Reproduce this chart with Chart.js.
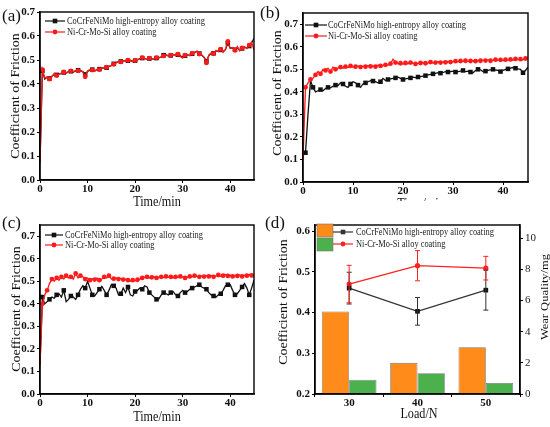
<!DOCTYPE html>
<html>
<head>
<meta charset="utf-8">
<script src="https://cdn.jsdelivr.net/npm/chart.js@4.4.0/dist/chart.umd.min.js"></script>
<style>
  body { margin: 0; background: #fff; }
  #wrap { position: relative; width: 550px; height: 427px; overflow: hidden; background: #fff; }
  canvas { position: absolute; }
  .tag { position: absolute; font-family: 'Liberation Serif', 'Times New Roman', serif; font-size: 17px; line-height: 17px; color: #111; z-index: 5; }
</style>
</head>
<body>
<div id="wrap">
  <canvas id="ca" width="275" height="212" style="left:0px;top:0px"></canvas>
  <canvas id="cb" width="288" height="201" style="left:262px;top:0px"></canvas>
  <canvas id="cc" width="275" height="215" style="left:0px;top:212px"></canvas>
  <canvas id="cd" width="288" height="215" style="left:262px;top:212px"></canvas>
  <div class="tag" style="left:2px;top:7px">(a)</div>
  <div class="tag" style="left:260px;top:4px">(b)</div>
  <div class="tag" style="left:2px;top:214px">(c)</div>
  <div class="tag" style="left:265px;top:214px">(d)</div>
</div>
<script>
// sampling times (min)
const minutes = [
  0,0.5,1,1.5,2,2.5,3,3.5,4,4.5,
  5,5.5,6,6.5,7,7.5,8,8.5,9,9.5,
  10,10.5,11,11.5,12,12.5,13,13.5,14,14.5,
  15,15.5,16,16.5,17,17.5,18,18.5,19,19.5,
  20,20.5,21,21.5,22,22.5,23,23.5,24,24.5,
  25,25.5,26,26.5,27,27.5,28,28.5,29,29.5,
  30,30.5,31,31.5,32,32.5,33,33.5,34,34.5,
  35,35.5,36,36.5,37,37.5,38,38.5,39,39.5,
  40,40.5,41,41.5,42,42.5,43,43.5,44,44.5,
  45];

// (a)
const cofA_HEA = [
  0.07,0.455,0.42,0.428,0.423,0.432,0.44,0.438,0.442,0.443,
  0.448,0.447,0.452,0.453,0.45,0.455,0.457,0.455,0.452,0.44,
  0.452,0.458,0.46,0.455,0.46,0.462,0.466,0.467,0.468,0.474,
  0.476,0.484,0.49,0.493,0.494,0.495,0.497,0.497,0.498,0.495,
  0.497,0.5,0.506,0.508,0.506,0.504,0.506,0.505,0.504,0.508,
  0.51,0.512,0.52,0.52,0.518,0.519,0.522,0.52,0.522,0.517,
  0.512,0.518,0.52,0.52,0.526,0.532,0.535,0.527,0.52,0.512,
  0.495,0.518,0.528,0.528,0.538,0.537,0.542,0.535,0.543,0.57,
  0.55,0.55,0.543,0.552,0.54,0.548,0.553,0.55,0.558,0.57,
  0.59];
const cofA_NiCr = [
  0.07,0.46,0.425,0.43,0.42,0.43,0.445,0.435,0.44,0.445,
  0.45,0.445,0.45,0.455,0.452,0.456,0.455,0.458,0.45,0.43,
  0.455,0.46,0.458,0.452,0.462,0.46,0.468,0.465,0.47,0.472,
  0.478,0.482,0.487,0.495,0.492,0.497,0.495,0.499,0.496,0.493,
  0.498,0.503,0.505,0.51,0.507,0.502,0.508,0.503,0.506,0.51,
  0.508,0.514,0.517,0.522,0.516,0.52,0.523,0.518,0.524,0.515,
  0.508,0.52,0.522,0.518,0.528,0.53,0.538,0.525,0.522,0.51,
  0.488,0.52,0.53,0.526,0.54,0.535,0.545,0.532,0.545,0.578,
  0.548,0.552,0.54,0.556,0.538,0.55,0.555,0.548,0.562,0.575,
  0.54];

// (b)
const cofB_HEA = [
  0.12,0.13,0.30,0.45,0.42,0.40,0.405,0.41,0.405,0.415,
  0.42,0.418,0.425,0.43,0.428,0.44,0.435,0.425,0.42,0.435,
  0.445,0.44,0.43,0.42,0.435,0.44,0.445,0.45,0.448,0.445,
  0.44,0.445,0.46,0.45,0.455,0.458,0.46,0.462,0.465,0.46,
  0.455,0.458,0.46,0.462,0.465,0.463,0.466,0.468,0.47,0.472,
  0.475,0.478,0.48,0.482,0.485,0.483,0.486,0.49,0.488,0.49,
  0.492,0.488,0.49,0.492,0.495,0.49,0.492,0.488,0.485,0.495,
  0.50,0.498,0.49,0.492,0.495,0.498,0.50,0.497,0.495,0.49,
  0.495,0.50,0.502,0.505,0.508,0.505,0.502,0.50,0.485,0.495,
  0.51];
const cofB_NiCr = [
  0.10,0.42,0.44,0.455,0.46,0.475,0.49,0.48,0.50,0.495,
  0.505,0.49,0.51,0.50,0.505,0.51,0.505,0.512,0.508,0.515,
  0.51,0.512,0.515,0.51,0.514,0.512,0.516,0.513,0.515,0.512,
  0.518,0.515,0.517,0.52,0.518,0.525,0.545,0.53,0.525,0.527,
  0.523,0.528,0.525,0.53,0.527,0.524,0.526,0.528,0.53,0.527,
  0.529,0.532,0.528,0.53,0.534,0.53,0.533,0.531,0.535,0.532,
  0.534,0.536,0.533,0.537,0.535,0.538,0.535,0.537,0.539,0.536,
  0.54,0.538,0.541,0.539,0.542,0.538,0.541,0.543,0.54,0.542,
  0.539,0.543,0.541,0.544,0.54,0.546,0.543,0.545,0.542,0.548,
  0.55];

// (c)
const cofC_HEA = [
  0.13,0.43,0.40,0.41,0.42,0.43,0.425,0.44,0.445,0.43,
  0.46,0.41,0.42,0.435,0.43,0.42,0.44,0.465,0.48,0.47,
  0.50,0.47,0.44,0.435,0.45,0.465,0.478,0.46,0.44,0.46,
  0.485,0.48,0.47,0.44,0.445,0.47,0.45,0.475,0.44,0.435,
  0.455,0.46,0.47,0.465,0.48,0.475,0.45,0.44,0.43,0.42,
  0.422,0.44,0.45,0.445,0.44,0.45,0.455,0.44,0.435,0.45,
  0.46,0.45,0.455,0.465,0.47,0.475,0.48,0.485,0.475,0.47,
  0.465,0.45,0.44,0.435,0.43,0.44,0.445,0.46,0.48,0.485,
  0.485,0.46,0.44,0.445,0.46,0.475,0.49,0.47,0.44,0.47,
  0.505];
const cofC_NiCr = [
  0.13,0.40,0.44,0.46,0.49,0.51,0.50,0.515,0.505,0.52,
  0.51,0.525,0.515,0.52,0.51,0.535,0.515,0.525,0.52,0.51,
  0.515,0.505,0.512,0.508,0.515,0.505,0.51,0.52,0.515,0.525,
  0.51,0.512,0.515,0.51,0.513,0.508,0.51,0.505,0.50,0.505,
  0.502,0.507,0.51,0.515,0.518,0.52,0.515,0.518,0.52,0.515,
  0.518,0.52,0.517,0.522,0.518,0.52,0.515,0.52,0.518,0.522,
  0.52,0.515,0.518,0.522,0.52,0.525,0.522,0.52,0.524,0.521,
  0.525,0.522,0.526,0.52,0.524,0.528,0.522,0.525,0.53,0.524,
  0.527,0.522,0.526,0.524,0.528,0.522,0.527,0.525,0.53,0.526,
  0.528];

// (d)
const loads = ['30', '40', '50'];
const loadCofHEA = [0.46, 0.403, 0.455];
const loadCofHEAErr = [0.039, 0.034, 0.049];
const loadCofNiCr = [0.47, 0.515, 0.509];
const loadCofNiCrErr = [0.046, 0.037, 0.029];
const wearHEA = [5.3, 2.0, 3.0];
const wearNiCr = [0.92, 1.33, 0.71];

const timeTicks = [0, 10, 20, 30, 40];
const cofTicks = [0, 0.1, 0.2, 0.3, 0.4, 0.5, 0.6, 0.7];
const loadCofTicks = [0.2, 0.3, 0.4, 0.5, 0.6];
const wearTicks = [0, 2, 4, 6, 8, 10];

const nameHEA = 'CoCrFeNiMo high-entropy alloy coating';
const nameNiCr = 'Ni-Cr-Mo-Si alloy coating';

const SERIF = "'Liberation Serif', 'Times New Roman', serif";
Chart.defaults.font.family = SERIF;
Chart.defaults.color = '#111';

const RED = '#ff1a1a';
const BLACK = '#111';
const tickFont = { family: SERIF, size: 11, weight: 'bold' };
const axisGrid = { drawOnChartArea: false, drawTicks: true, tickLength: 3, color: '#000', lineWidth: 1 };
const axisBorder = { color: '#000', width: 1.4 };

function series(vals, name, color, style, every, order) {
  return {
    label: name,
    data: minutes.map((t, i) => ({ x: t, y: vals[i] })),
    borderColor: color,
    backgroundColor: color,
    borderWidth: 1.3,
    pointStyle: style,
    pointRadius: c => (c.dataIndex % every === 1 ? (style === 'rect' ? 3.2 : 2.4) : 0),
    pointBorderWidth: 0,
    tension: 0,
    order
  };
}

// frame, axis titles and in-plot legend
function decor(cfg) {
  return {
    id: 'decor',
    afterDraw(chart) {
      const { ctx, chartArea: a } = chart;
      const ds = chart.data.datasets;
      ctx.save();
      ctx.strokeStyle = '#000';
      ctx.lineWidth = 1.4;
      ctx.strokeRect(a.left, a.top, a.right - a.left, a.bottom - a.top);

      cfg.titles.forEach(t => {
        ctx.save();
        ctx.translate(t.x, t.y);
        if (t.rot) {
          ctx.rotate(-Math.PI / 2);
          ctx.scale(1, 0.85);
        } else {
          ctx.scale(0.87, 1);
        }
        ctx.font = t.size + 'px ' + SERIF;
        ctx.fillStyle = '#111';
        ctx.textAlign = 'center';
        ctx.textBaseline = 'middle';
        ctx.fillText(t.text, 0, 0);
        ctx.restore();
      });

      const L = cfg.legend;
      (L.boxes || []).forEach(b => {
        ctx.fillStyle = ds[b.ds].backgroundColor;
        ctx.fillRect(b.x, b.y, b.w, b.h);
        ctx.strokeStyle = '#777';
        ctx.lineWidth = 0.6;
        ctx.strokeRect(b.x, b.y, b.w, b.h);
      });
      L.rows.forEach(r => {
        const d = ds[r.ds];
        ctx.strokeStyle = d.borderColor;
        ctx.fillStyle = d.borderColor;
        ctx.lineWidth = 1.2;
        ctx.beginPath();
        ctx.moveTo(L.x0, r.y);
        ctx.lineTo(L.x1, r.y);
        ctx.stroke();
        const mx = (L.x0 + L.x1) / 2;
        if (d.pointStyle === 'rect') {
          ctx.fillRect(mx - 2.3, r.y - 2.3, 4.6, 4.6);
        } else {
          ctx.beginPath();
          ctx.arc(mx, r.y, 2.4, 0, Math.PI * 2);
          ctx.fill();
        }
        ctx.save();
        ctx.translate(L.tx, r.y);
        ctx.scale(0.8, 1);
        ctx.font = '10.5px ' + SERIF;
        ctx.fillStyle = '#222';
        ctx.textAlign = 'left';
        ctx.textBaseline = 'middle';
        ctx.fillText(d.label, 0, 0);
        ctx.restore();
      });
      ctx.restore();
    }
  };
}

function errorBars(list) {
  return {
    id: 'errorBars',
    afterDatasetsDraw(chart) {
      const ctx = chart.ctx;
      list.forEach(({ ds, err }) => {
        const d = chart.data.datasets[ds];
        const meta = chart.getDatasetMeta(ds);
        const ys = chart.scales[d.yAxisID];
        ctx.save();
        ctx.strokeStyle = d.borderColor;
        ctx.lineWidth = 1;
        meta.data.forEach((pt, i) => {
          const top = ys.getPixelForValue(d.data[i] + err[i]);
          const bot = ys.getPixelForValue(d.data[i] - err[i]);
          ctx.beginPath();
          ctx.moveTo(pt.x, top); ctx.lineTo(pt.x, bot);
          ctx.moveTo(pt.x - 2.5, top); ctx.lineTo(pt.x + 2.5, top);
          ctx.moveTo(pt.x - 2.5, bot); ctx.lineTo(pt.x + 2.5, bot);
          ctx.stroke();
        });
        ctx.restore();
      });
    }
  };
}

function timeChart(id, hea, nicr, yMax, yWidth, xHeight, pad, redEvery, deco) {
  new Chart(document.getElementById(id), {
    type: 'line',
    data: {
      datasets: [
        series(hea, nameHEA, BLACK, 'rect', 3, 1),
        series(nicr, nameNiCr, RED, 'circle', redEvery, 0)
      ]
    },
    options: {
      responsive: false,
      animation: false,
      events: [],
      layout: { padding: pad },
      plugins: { legend: { display: false }, tooltip: { enabled: false } },
      scales: {
        x: {
          type: 'linear', min: 0, max: 45,
          afterBuildTicks: s => { s.ticks = timeTicks.map(v => ({ value: v })); },
          afterFit: s => { s.height = xHeight; },
          grid: axisGrid, border: axisBorder,
          ticks: { font: tickFont, color: '#111', padding: 0, maxRotation: 0 }
        },
        y: {
          min: 0, max: yMax,
          afterBuildTicks: s => { s.ticks = cofTicks.map(v => ({ value: v })); },
          afterFit: s => { s.width = yWidth; },
          grid: axisGrid, border: axisBorder,
          ticks: { font: tickFont, color: '#111', padding: 2, callback: v => v.toFixed(1) }
        }
      }
    },
    plugins: [decor(deco)]
  });
}

timeChart('ca', cofA_HEA, cofA_NiCr, 0.7, 40, 32, { top: 12, right: 21, left: 0, bottom: 0 }, 3, {
  titles: [
    { text: 'Coefficient of Friction', x: 16, y: 96, rot: true, size: 14 },
    { text: 'Time/min', x: 157, y: 202, size: 14 }
  ],
  legend: { x0: 45, x1: 65, tx: 67, rows: [{ ds: 0, y: 21 }, { ds: 1, y: 32 }] }
});

timeChart('cb', cofB_HEA, cofB_NiCr, 0.75, 41, 19, { top: 13, right: 22, left: 0, bottom: 0 }, 2, {
  titles: [
    { text: 'Coefficient of Friction', x: 16, y: 93, rot: true, size: 14 },
    { text: 'Time/min', x: 159, y: 204, size: 14 }
  ],
  legend: { x0: 43, x1: 65, tx: 66, rows: [{ ds: 0, y: 25 }, { ds: 1, y: 36 }] }
});

timeChart('cc', cofC_HEA, cofC_NiCr, 0.75, 40, 33, { top: 13, right: 21, left: 0, bottom: 0 }, 2, {
  titles: [
    { text: 'Coefficient of Friction', x: 17, y: 97, rot: true, size: 14 },
    { text: 'Time/min', x: 157, y: 205, size: 14 }
  ],
  legend: { x0: 45, x1: 63, tx: 65, rows: [{ ds: 0, y: 23 }, { ds: 1, y: 33 }] }
});

new Chart(document.getElementById('cd'), {
  type: 'bar',
  data: {
    labels: loads,
    datasets: [
      { type: 'bar', label: nameHEA, data: wearHEA, yAxisID: 'y2', backgroundColor: '#ff8c1a',
        borderColor: '#7a7a7a', borderWidth: 0.8, categoryPercentage: 0.8, barPercentage: 1.0, order: 1 },
      { type: 'bar', label: nameNiCr, data: wearNiCr, yAxisID: 'y2', backgroundColor: '#4cb04c',
        borderColor: '#7a7a7a', borderWidth: 0.8, categoryPercentage: 0.8, barPercentage: 1.0, order: 1 },
      { type: 'line', label: nameHEA, data: loadCofHEA, yAxisID: 'y', borderColor: '#333', backgroundColor: '#111',
        borderWidth: 1.3, pointStyle: 'rect', pointRadius: 3.3, pointBorderWidth: 0, order: 0 },
      { type: 'line', label: nameNiCr, data: loadCofNiCr, yAxisID: 'y', borderColor: '#ff2020', backgroundColor: '#ff2020',
        borderWidth: 1.3, pointStyle: 'circle', pointRadius: 2.6, pointBorderWidth: 0, order: 0 }
    ]
  },
  options: {
    responsive: false,
    animation: false,
    events: [],
    layout: { padding: { top: 13, right: 0, left: 0, bottom: 0 } },
    plugins: { legend: { display: false }, tooltip: { enabled: false } },
    scales: {
      x: {
        afterFit: s => { s.height = 33; },
        grid: axisGrid, border: axisBorder,
        ticks: { font: tickFont, color: '#111', padding: 0, maxRotation: 0 }
      },
      y: {
        position: 'left', min: 0.2, max: 0.615,
        afterBuildTicks: s => { s.ticks = loadCofTicks.map(v => ({ value: v })); },
        afterFit: s => { s.width = 53; },
        grid: axisGrid, border: axisBorder,
        ticks: { font: tickFont, color: '#111', padding: 2, callback: v => v.toFixed(1) }
      },
      y2: {
        position: 'right', min: 0, max: 10.85,
        afterBuildTicks: s => { s.ticks = wearTicks.map(v => ({ value: v })); },
        afterFit: s => { s.width = 30; },
        grid: axisGrid, border: axisBorder,
        ticks: { font: { family: SERIF, size: 11 }, color: '#222', padding: 2 }
      }
    }
  },
  plugins: [
    errorBars([{ ds: 2, err: loadCofHEAErr }, { ds: 3, err: loadCofNiCrErr }]),
    decor({
      titles: [
        { text: 'Coefficient of Friction', x: 21.5, y: 90, rot: true, size: 14 },
        { text: 'Load/N', x: 157, y: 202, size: 14 },
        { text: 'Wear Quality/mg', x: 283, y: 85, rot: true, size: 12.5 }
      ],
      legend: {
        x0: 71, x1: 91, tx: 94,
        boxes: [{ ds: 0, x: 55, y: 12, w: 16, h: 13 }, { ds: 1, x: 55, y: 26, w: 16, h: 13 }],
        rows: [{ ds: 2, y: 20 }, { ds: 3, y: 32 }]
      }
    })
  ]
});
</script>
</body>
</html>
